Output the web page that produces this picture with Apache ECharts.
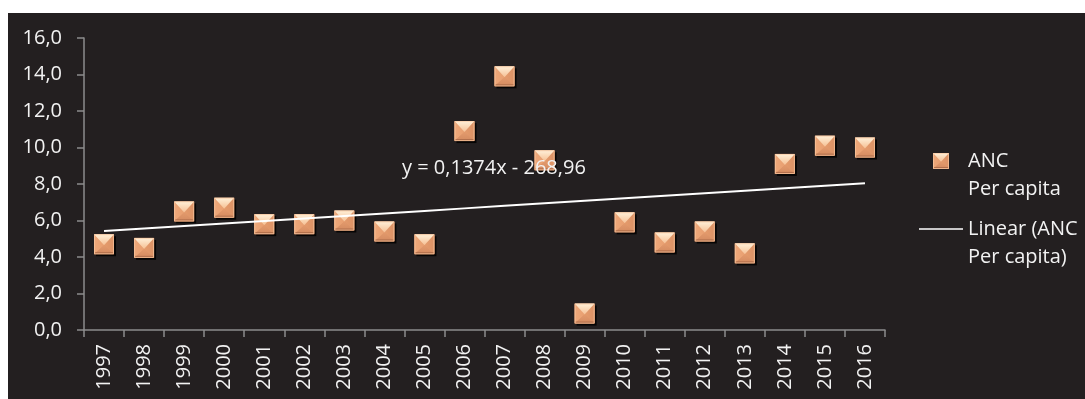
<!DOCTYPE html>
<html>
<head>
<meta charset="utf-8">
<script src="https://cdn.jsdelivr.net/npm/echarts@6/dist/echarts.min.js"></script>
<style>
  html, body { margin: 0; padding: 0; background: #ffffff; }
  #chart { position: absolute; left: 8px; top: 13px; width: 1077px; height: 386px; }
</style>
</head>
<body>
<div id="chart"></div>
<script>
// ANC per capita by year
var years = ['1997','1998','1999','2000','2001','2002','2003','2004','2005','2006',
             '2007','2008','2009','2010','2011','2012','2013','2014','2015','2016'];
var ancPerCapita = [4.7, 4.5, 6.5, 6.7, 5.8, 5.8, 6.0, 5.4, 4.7, 10.9,
                    13.9, 9.3, 0.9, 5.9, 4.8, 5.4, 4.2, 9.1, 10.1, 10.0];

// Linear trend: y = slope * year + intercept
var trendSlope = 0.1374;
var trendIntercept = -268.96;

var yTicks = { min: 0, max: 16, interval: 2 };

var seriesName = 'ANC\nPer capita';
var trendName = 'Linear (ANC\nPer capita)';

function fmt(v, digits) {
  return v.toFixed(digits).replace('.', ',');
}
var trendValues = years.map(function (y) { return trendSlope * Number(y) + trendIntercept; });
var equationText = 'y = ' + fmt(trendSlope, 4) + 'x - ' + fmt(-trendIntercept, 2);

var FONT = '"Open Sans", "Liberation Sans", sans-serif';
var FONT_SIZE = 20;
var TEXT = '#f2f2f2';
var AXIS = '#8c8c8c';

var topFace = new echarts.graphic.LinearGradient(0, 0, 0, 1, [
  { offset: 0, color: '#fff1da' }, { offset: 1, color: '#f6c094' }]);
var leftFace = new echarts.graphic.LinearGradient(0, 0, 1, 0, [
  { offset: 0, color: '#eea87a' }, { offset: 1, color: '#e89f70' }]);
var rightFace = new echarts.graphic.LinearGradient(0, 0, 1, 0, [
  { offset: 0, color: '#e49b6c' }, { offset: 1, color: '#dc9266' }]);
var bottomFace = new echarts.graphic.LinearGradient(0, 0, 0, 1, [
  { offset: 0, color: '#e39a6c' }, { offset: 1, color: '#d38a60' }]);

// Bevelled square marker: four faces meeting near the centre, with a drop shadow
function pyramidShapes(cx0, cy0, h, shadow) {
  var x0 = cx0 - h, y0 = cy0 - h, x1 = cx0 + h, y1 = cy0 + h;
  var cx = cx0, cy = cy0 + h * 0.1;
  var parts = [];
  if (shadow) {
    parts.push({ type: 'rect', shape: { x: x0 + shadow, y: y0 + shadow, width: 2 * h, height: 2 * h },
                 style: { fill: 'rgba(0,0,0,0.85)' } });
  }
  parts.push(
    { type: 'rect', shape: { x: x0, y: y0, width: 2 * h, height: 2 * h }, style: { fill: '#dd9468' } },
    { type: 'polygon', shape: { points: [[x0, y0], [cx, cy], [x0, y1]] }, style: { fill: leftFace } },
    { type: 'polygon', shape: { points: [[x1, y0], [cx, cy], [x1, y1]] }, style: { fill: rightFace } },
    { type: 'polygon', shape: { points: [[x0, y1], [cx, cy], [x1, y1]] }, style: { fill: bottomFace } },
    { type: 'polygon', shape: { points: [[x0, y0], [x1, y0], [cx, cy]] }, style: { fill: topFace } },
    { type: 'rect', shape: { x: x0 + 0.5, y: y0 + 0.5, width: 2 * h - 1, height: 2 * h - 1 },
      style: { fill: 'none', stroke: 'rgba(250,200,160,0.7)', lineWidth: 1 } },
    { type: 'line', shape: { x1: x0 + 1, y1: y1 - 1.5, x2: x1 - 1, y2: y1 - 1.5 },
      style: { stroke: 'rgba(150,90,60,0.6)', lineWidth: 1 } }
  );
  return parts;
}

function renderPyramid(params, api) {
  var c = api.coord([api.value(0), api.value(1)]);
  return { type: 'group', children: pyramidShapes(c[0], c[1], 10, 2) };
}

var legendLeft = 911;
var legendTextLeft = 960;
var legendLineHeight = 28.5;

var chart = echarts.init(document.getElementById('chart'), null, { renderer: 'canvas' });

chart.setOption({
  backgroundColor: '#231f20',
  animation: false,
  grid: { left: 76, right: 200, top: 25, bottom: 69 },
  xAxis: {
    type: 'category',
    data: years,
    boundaryGap: true,
    axisLine: { show: true, lineStyle: { color: AXIS, width: 1.5 } },
    axisTick: { show: true, length: 7, inside: false, lineStyle: { color: AXIS, width: 1.5 } },
    axisLabel: { interval: 0, rotate: 90, margin: 14, color: TEXT, fontFamily: FONT, fontSize: FONT_SIZE },
    splitLine: { show: false }
  },
  yAxis: {
    type: 'value',
    min: yTicks.min,
    max: yTicks.max,
    interval: yTicks.interval,
    axisLine: { show: true, lineStyle: { color: AXIS, width: 1.5 } },
    axisTick: { show: true, length: 7, inside: false, lineStyle: { color: AXIS, width: 1.5 } },
    axisLabel: { margin: 22, color: TEXT, fontFamily: FONT, fontSize: FONT_SIZE,
                 formatter: function (v) { return fmt(v, 1); } },
    splitLine: { show: false }
  },
  graphic: [
    {
      type: 'text', x: 394, y: 155, z: 10,
      style: { text: equationText, fill: TEXT, font: FONT_SIZE + 'px ' + FONT, verticalAlign: 'middle' }
    },
    // legend: marker series
    { type: 'group', z: 10, children: pyramidShapes(legendLeft + 22, 148, 8, 0) },
    {
      type: 'text', x: legendTextLeft, y: 148 - legendLineHeight / 2, z: 10,
      style: { text: seriesName, fill: TEXT, font: FONT_SIZE + 'px ' + FONT,
               lineHeight: legendLineHeight, verticalAlign: 'top' }
    },
    // legend: trend line
    {
      type: 'line', z: 10,
      shape: { x1: legendLeft, y1: 216, x2: legendLeft + 44, y2: 216 },
      style: { stroke: '#ffffff', lineWidth: 1.5 }
    },
    {
      type: 'text', x: legendTextLeft, y: 216 - legendLineHeight / 2, z: 10,
      style: { text: trendName, fill: TEXT, font: FONT_SIZE + 'px ' + FONT,
               lineHeight: legendLineHeight, verticalAlign: 'top' }
    }
  ],
  series: [
    {
      name: seriesName,
      type: 'custom',
      renderItem: renderPyramid,
      itemStyle: { color: '#e39a6c' },
      data: years.map(function (y, i) { return [y, ancPerCapita[i]]; }),
      encode: { x: 0, y: 1 },
      z: 2
    },
    {
      name: trendName,
      type: 'line',
      data: trendValues,
      symbol: 'none',
      lineStyle: { color: '#ffffff', width: 2 },
      itemStyle: { color: '#ffffff' },
      z: 3
    }
  ]
});
</script>
</body>
</html>
